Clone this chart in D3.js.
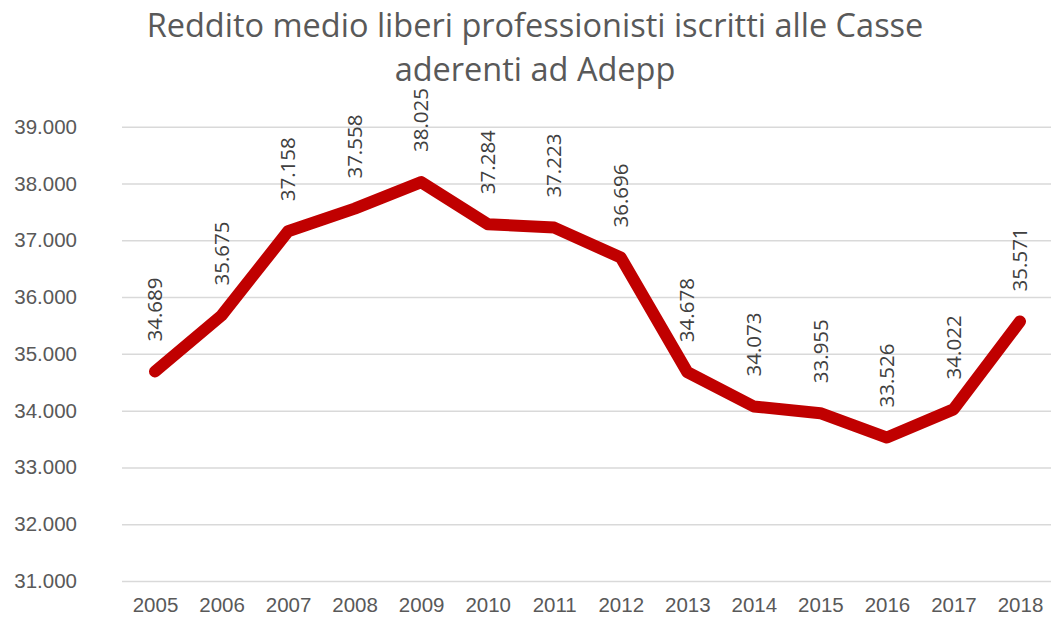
<!DOCTYPE html>
<html>
<head>
<meta charset="utf-8">
<script src="https://cdn.jsdelivr.net/npm/d3@7"></script>
<style>
  html, body { margin: 0; padding: 0; background: #fff; }
  svg { display: block; font-family: "Open Sans", sans-serif; }
</style>
</head>
<body>
<svg id="chart"></svg>
<script>
// Chart data
const years = ["2005", "2006", "2007", "2008", "2009", "2010", "2011", "2012", "2013", "2014", "2015", "2016", "2017", "2018"];
const redditi = [34689, 35675, 37158, 37558, 38025, 37284, 37223, 36696, 34678, 34073, 33955, 33526, 34022, 35571];
const y_ticks = [31000, 32000, 33000, 34000, 35000, 36000, 37000, 38000, 39000];
const title_lines = ["Reddito medio liberi professionisti iscritti alle Casse", "aderenti ad Adepp"];

// Dimensions
const width = 1051, height = 622;
const grid_left = 122;

// Italian number format (dot as thousands separator)
const it_locale = d3.formatLocale({ decimal: ",", thousands: ".", grouping: [3], currency: ["€", ""] });
const fmt = it_locale.format(",.0f");

const svg = d3.select("#chart")
    .attr("width", width)
    .attr("height", height);

// Scales
const x_scale = d3.scalePoint()
    .domain(years)
    .range([155, 1020]);
const y_scale = d3.scaleLinear()
    .domain([31000, 39000])
    .range([581, 126.7]);

// Title
svg.append("g")
    .selectAll("text")
    .data(title_lines)
    .join("text")
    .attr("x", 535)
    .attr("y", (d, i) => 37 + i * 44)
    .attr("text-anchor", "middle")
    .attr("fill", "#595959")
    .style("font-size", "32.5px")
    .text(d => d);

// Gridlines + y labels
const y_axis = d3.axisLeft(y_scale)
    .tickValues(y_ticks)
    .tickSize(-(width - grid_left))
    .tickPadding(45)
    .tickFormat(fmt);

const y_g = svg.append("g")
    .attr("transform", `translate(${grid_left}, 0)`)
    .call(y_axis);
y_g.select(".domain").remove();
y_g.selectAll(".tick line").attr("stroke", "#d9d9d9").attr("stroke-width", 1.5);
y_g.selectAll(".tick text")
    .attr("fill", "#595959")
    .style("font-size", "20.5px");

// X axis labels
const x_axis = d3.axisBottom(x_scale).tickSize(0).tickPadding(0);
const x_g = svg.append("g")
    .attr("transform", "translate(0, 597)")
    .call(x_axis);
x_g.select(".domain").remove();
x_g.selectAll(".tick text")
    .attr("fill", "#595959")
    .style("font-size", "20.5px");

// The line
const line = d3.line()
    .x((d, i) => x_scale(years[i]))
    .y(d => y_scale(d));

svg.append("path")
    .datum(redditi)
    .attr("d", line)
    .attr("fill", "none")
    .attr("stroke", "#c00000")
    .attr("stroke-width", 12)
    .attr("stroke-linejoin", "round")
    .attr("stroke-linecap", "round");

// Rotated data labels above the points
svg.append("g")
    .selectAll("text")
    .data(redditi)
    .join("text")
    .attr("transform", (d, i) => `translate(${x_scale(years[i])}, ${y_scale(d) - 30}) rotate(-90)`)
    .attr("dy", "0.35em")
    .attr("fill", "#404040")
    .style("font-size", "20.5px")
    .text(d => fmt(d));
</script>
</body>
</html>
